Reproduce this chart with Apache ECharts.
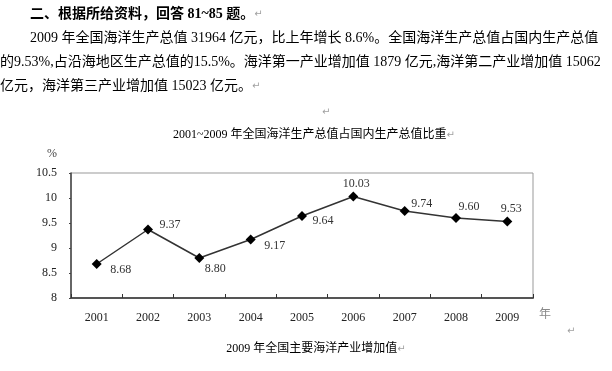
<!DOCTYPE html>
<html><head><meta charset="utf-8">
<script src="https://cdn.jsdelivr.net/npm/echarts@6/dist/echarts.min.js"></script>
<style>html,body{margin:0;padding:0;background:#fff}#c{width:612px;height:371px}</style>
</head><body><div id="c"></div>
<script>
const years = ['2001','2002','2003','2004','2005','2006','2007','2008','2009'];
const shares = [8.68, 9.37, 8.80, 9.17, 9.64, 10.03, 9.74, 9.60, 9.53];
const shareLabels = ['8.68','9.37','8.80','9.17','9.64','10.03','9.74','9.60','9.53'];
const yTicks = {min: 8, max: 10.5, interval: 0.5};
const heading = '二、根据所给资料，回答 81~85 题。';
const paraLines = [
  '2009 年全国海洋生产总值 31964 亿元，比上年增长 8.6%。全国海洋生产总值占国内生产总值',
  '的9.53%,占沿海地区生产总值的15.5%。海洋第一产业增加值 1879 亿元,海洋第二产业增加值 15062',
  '亿元，海洋第三产业增加值 15023 亿元。'
];
const chartTitle = '2001~2009 年全国海洋生产总值占国内生产总值比重';
const caption = '2009 年全国主要海洋产业增加值';

// label placement (style only)
const labelOffsets = [[24,6],[22,-5],[16,11],[24,6],[21,5],[3,-13],[17,-7],[13,-11],[4,-13]];

const FONT = "'Liberation Serif', 'Noto Sans CJK SC', serif";
const CJK = "'Liberation Serif', 'Noto Sans CJK SC', sans-serif";
const mark = {fill:'#a0a0a0', fontSize:10, fontFamily:'DejaVu Sans'};

const chart = echarts.init(document.getElementById('c'), null, {renderer:'canvas'});
const seriesData = shares.map((v,i)=>({
  value: v,
  label: {formatter: shareLabels[i], offset: labelOffsets[i]}
}));

function txt(x, y, text, fontSize, opts) {
  opts = opts || {};
  return {type:'text', x:x, y:y, silent:true,
    style: Object.assign({text:text, fontSize:fontSize, fontFamily:CJK, fill:'#000',
      textAlign: opts.align || 'left', textVerticalAlign:'middle',
      fontWeight: opts.bold ? 'bold' : 'normal',
      rich: {r: mark}}, opts.style || {})};
}

const option = {
  animation:false,
  grid:{left:71, right:79, top:173, bottom:73, show:true, borderColor:'#999', borderWidth:1},
  xAxis:{type:'category', data:years, boundaryGap:true,
    name:'年', nameLocation:'end', nameGap:6,
    nameTextStyle:{color:'#888', fontSize:12, fontFamily:CJK, verticalAlign:'top', padding:[11,0,0,0]},
    axisLine:{lineStyle:{color:'#555', width:2}},
    axisTick:{show:true, inside:true, length:4, lineStyle:{color:'#333'}},
    axisLabel:{color:'#222', fontSize:12, fontFamily:FONT, margin:14},
    splitLine:{show:false}},
  yAxis:{type:'value', min:yTicks.min, max:yTicks.max, interval:yTicks.interval,
    name:'%', nameLocation:'end', nameGap:13,
    nameTextStyle:{color:'#444', fontSize:12, fontFamily:FONT, align:'right', padding:[0,14,0,0]},
    axisLine:{show:true, lineStyle:{color:'#444', width:1.5}},
    axisTick:{show:true, inside:false, length:2, lineStyle:{color:'#444'}},
    axisLabel:{color:'#222', fontSize:12, fontFamily:FONT, margin:14},
    splitLine:{show:false}},
  series:[{type:'line', data:seriesData, symbol:'diamond', symbolSize:10,
    itemStyle:{color:'#000'}, lineStyle:{color:'#333', width:1.5},
    label:{show:true, position:'inside', color:'#333', fontSize:12, fontFamily:FONT}}],
  graphic:[
    txt(30, 14, heading + '{r|↵}', 14, {bold:true}),
    txt(30, 38, paraLines[0], 14),
    txt(0, 62, paraLines[1], 14),
    txt(0, 86, paraLines[2] + '{r|↵}', 14),
    txt(322, 112, '{r|↵}', 10),
    txt(314, 135, chartTitle + '{r|↵}', 12, {align:'center'}),
    txt(567, 331, '{r|↵}', 10),
    txt(316, 349, caption + '{r|↵}', 12, {align:'center'})
  ]
};
chart.setOption(option);
</script></body></html>
